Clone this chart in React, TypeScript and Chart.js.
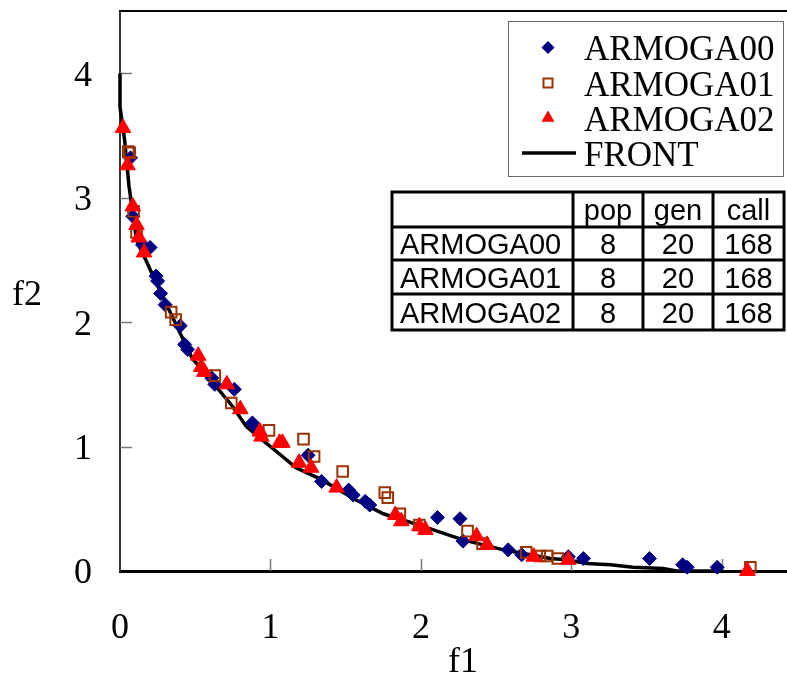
import React, { useEffect, useRef } from 'react';
import { Chart, registerables } from 'chart.js';

Chart.register(...registerables);

// ---- data ----
const frontF1 = [0, 0, 0.03, 0.06, 0.11, 0.16, 0.22, 0.31, 0.40, 0.48, 0.62, 0.75, 0.84, 0.97, 1.08, 1.17, 1.24, 1.33, 1.57, 1.75, 2.01, 2.28, 2.55, 2.86, 2.97, 3.10, 3.26, 3.41, 3.61, 3.70, 4.01];
const frontF2 = [4.0, 3.73, 3.47, 3.09, 2.66, 2.53, 2.37, 2.14, 1.91, 1.71, 1.51, 1.32, 1.16, 1.03, 0.92, 0.83, 0.79, 0.74, 0.57, 0.46, 0.36, 0.25, 0.17, 0.10, 0.09, 0.06, 0.05, 0.03, 0.02, 0.0, 0.0];

const a00F1 = [0.07, 0.085, 0.15, 0.20, 0.24, 0.25, 0.27, 0.30, 0.40, 0.43, 0.45, 0.61, 0.63, 0.76, 0.88, 0.90, 1.25, 1.34, 1.52, 1.55, 1.63, 1.66, 2.11, 2.26, 2.28, 2.58, 2.67, 2.98, 3.08, 3.52, 3.74, 3.77, 3.97];
const a00F2 = [3.32, 2.85, 2.62, 2.60, 2.37, 2.33, 2.23, 2.14, 1.97, 1.82, 1.78, 1.55, 1.50, 1.46, 1.19, 1.16, 0.93, 0.72, 0.65, 0.61, 0.56, 0.53, 0.43, 0.42, 0.24, 0.17, 0.13, 0.115, 0.10, 0.10, 0.05, 0.03, 0.03];

const a01F1 = [0.055, 0.065, 0.09, 0.11, 0.34, 0.37, 0.63, 0.74, 0.99, 1.22, 1.29, 1.48, 1.76, 1.78, 1.86, 1.99, 2.31, 2.41, 2.70, 2.79, 2.84, 2.91, 4.19];
const a01F2 = [3.37, 3.36, 2.89, 2.72, 2.08, 2.02, 1.57, 1.35, 1.13, 1.06, 0.92, 0.80, 0.63, 0.59, 0.46, 0.37, 0.32, 0.22, 0.15, 0.12, 0.12, 0.10, 0.03];

const a02F1 = [0.02, 0.05, 0.085, 0.11, 0.125, 0.16, 0.52, 0.54, 0.56, 0.71, 0.80, 0.93, 0.94, 1.06, 1.08, 1.19, 1.27, 1.44, 1.83, 1.87, 1.99, 2.03, 2.37, 2.44, 2.75, 2.98, 4.17];
const a02F2 = [3.56, 3.26, 2.93, 2.78, 2.68, 2.56, 1.73, 1.64, 1.60, 1.50, 1.30, 1.12, 1.08, 1.03, 1.03, 0.87, 0.83, 0.67, 0.45, 0.40, 0.36, 0.33, 0.28, 0.21, 0.115, 0.09, 0.0];

const xTickValues = [0, 1, 2, 3, 4];
const yTickValues = [0, 1, 2, 3, 4];
const xTitle = 'f1';
const yTitle = 'f2';

const seriesNames = ['ARMOGA00', 'ARMOGA01', 'ARMOGA02', 'FRONT'];

const tableHeader = ['', 'pop', 'gen', 'call'];
const tableNames = ['ARMOGA00', 'ARMOGA01', 'ARMOGA02'];
const tablePop = ['8', '8', '8'];
const tableGen = ['20', '20', '20'];
const tableCall = ['168', '168', '168'];

const NAVY = '#000080';
const BROWN = '#993300';
const RED = '#ff0000';
const SERIF = '"Liberation Serif", "Times New Roman", serif';
const SANS = '"Liberation Sans", Arial, sans-serif';

const toPoints = (xs: number[], ys: number[]) => xs.map((x, i) => ({ x, y: ys[i] }));

function drawMarker(ctx: CanvasRenderingContext2D, kind: number, x: number, y: number) {
  ctx.save();
  if (kind === 0) {
    const r = 6.5;
    ctx.fillStyle = NAVY;
    ctx.beginPath();
    ctx.moveTo(x, y - r);
    ctx.lineTo(x + r, y);
    ctx.lineTo(x, y + r);
    ctx.lineTo(x - r, y);
    ctx.closePath();
    ctx.fill();
  } else if (kind === 1) {
    ctx.strokeStyle = BROWN;
    ctx.lineWidth = 2;
    ctx.strokeRect(x - 4.5, y - 4.5, 9, 9);
  } else if (kind === 2) {
    const r = 7.5;
    ctx.fillStyle = RED;
    ctx.beginPath();
    ctx.moveTo(x, y - r);
    ctx.lineTo(x + r * 0.866, y + r * 0.5);
    ctx.lineTo(x - r * 0.866, y + r * 0.5);
    ctx.closePath();
    ctx.fill();
  } else {
    ctx.strokeStyle = '#000';
    ctx.lineWidth = 3.5;
    ctx.beginPath();
    ctx.moveTo(x - 26, y);
    ctx.lineTo(x + 28, y);
    ctx.stroke();
  }
  ctx.restore();
}

const decorPlugin = {
  id: 'decor',
  beforeDatasetsDraw(chart: any) {
    const ctx: CanvasRenderingContext2D = chart.ctx;
    const { left, top, right, bottom } = chart.chartArea;
    const xs = chart.scales.x;
    const ys = chart.scales.y;
    ctx.save();
    // top frame line
    ctx.strokeStyle = '#000';
    ctx.lineWidth = 2;
    ctx.beginPath();
    ctx.moveTo(left - 1, top);
    ctx.lineTo(right + 10, top);
    ctx.stroke();
    // inward tick marks
    ctx.strokeStyle = '#777';
    ctx.lineWidth = 1.5;
    xTickValues.forEach((v) => {
      if (v === 0) return;
      const px = Math.round(xs.getPixelForValue(v)) + 0.5;
      ctx.beginPath();
      ctx.moveTo(px, bottom);
      ctx.lineTo(px, bottom - 12);
      ctx.stroke();
    });
    yTickValues.forEach((v) => {
      if (v === 0) return;
      const py = Math.round(ys.getPixelForValue(v)) + 0.5;
      ctx.beginPath();
      ctx.moveTo(left, py);
      ctx.lineTo(left + 12, py);
      ctx.stroke();
    });
    ctx.restore();
  },
  afterDraw(chart: any) {
    const ctx: CanvasRenderingContext2D = chart.ctx;
    ctx.save();
    // axis titles
    ctx.fillStyle = '#000';
    ctx.font = `36px ${SERIF}`;
    ctx.textBaseline = 'alphabetic';
    ctx.textAlign = 'center';
    ctx.fillText(xTitle, 463, 672);
    ctx.textAlign = 'left';
    ctx.fillText(yTitle, 12, 305);

    // legend
    const lx = 508.5, ly = 21.5, lw = 275, lh = 155;
    ctx.fillStyle = '#fff';
    ctx.fillRect(lx, ly, lw, lh);
    ctx.strokeStyle = '#666';
    ctx.lineWidth = 1;
    ctx.strokeRect(lx, ly, lw, lh);
    const rowCenters = [47.5, 83, 118, 153];
    ctx.font = `35px ${SERIF}`;
    ctx.fillStyle = '#000';
    ctx.textAlign = 'left';
    seriesNames.forEach((name, i) => {
      drawMarker(ctx, i, 548, rowCenters[i]);
      ctx.fillStyle = '#000';
      ctx.fillText(name, 584, rowCenters[i] + 12.5);
    });

    // table
    const cols = [392, 573, 643, 713, 784];
    const rows = [192, 227, 260, 294, 330];
    ctx.fillStyle = '#fff';
    ctx.fillRect(cols[0], rows[0], cols[4] - cols[0], rows[4] - rows[0]);
    ctx.strokeStyle = '#000';
    ctx.lineWidth = 3;
    ctx.strokeRect(cols[0], rows[0], cols[4] - cols[0], rows[4] - rows[0]);
    ctx.beginPath();
    for (let c = 1; c < cols.length - 1; c++) {
      ctx.moveTo(cols[c], rows[0]);
      ctx.lineTo(cols[c], rows[4]);
    }
    for (let r = 1; r < rows.length - 1; r++) {
      ctx.moveTo(cols[0], rows[r]);
      ctx.lineTo(cols[4], rows[r]);
    }
    ctx.stroke();
    ctx.font = `29px ${SANS}`;
    ctx.fillStyle = '#000';
    const table = [
      tableHeader,
      ...tableNames.map((n, i) => [n, tablePop[i], tableGen[i], tableCall[i]]),
    ];
    table.forEach((row, r) => {
      const base = (rows[r] + rows[r + 1]) / 2 + 10.5;
      row.forEach((cell, c) => {
        if (!cell) return;
        if (c === 0) {
          ctx.textAlign = 'left';
          ctx.fillText(cell, cols[0] + 8, base);
        } else {
          ctx.textAlign = 'center';
          ctx.fillText(cell, (cols[c] + cols[c + 1]) / 2, base);
        }
      });
    });
    ctx.restore();
  },
};

export default function App() {
  const canvasRef = useRef<HTMLCanvasElement | null>(null);

  useEffect(() => {
    if (!canvasRef.current) return;
    const chart = new Chart(canvasRef.current, {
      type: 'scatter',
      data: {
        datasets: [
          {
            label: seriesNames[0],
            data: toPoints(a00F1, a00F2),
            pointStyle: 'rectRot',
            pointRadius: 7,
            backgroundColor: NAVY,
            borderColor: NAVY,
            borderWidth: 1,
            order: 3,
            clip: false,
          },
          {
            label: seriesNames[1],
            data: toPoints(a01F1, a01F2),
            pointStyle: 'rect',
            pointRadius: 7.5,
            backgroundColor: 'rgba(255,255,255,0)',
            borderColor: BROWN,
            borderWidth: 2,
            order: 2,
            clip: false,
          },
          {
            label: seriesNames[2],
            data: toPoints(a02F1, a02F2),
            pointStyle: 'triangle',
            pointRadius: 9,
            backgroundColor: RED,
            borderColor: RED,
            borderWidth: 1,
            order: 1,
            clip: false,
          },
          {
            label: seriesNames[3],
            data: toPoints(frontF1, frontF2),
            showLine: true,
            pointRadius: 0,
            borderColor: '#000',
            borderWidth: 3.5,
            tension: 0,
            order: 4,
            clip: false,
          } as any,
        ],
      },
      options: {
        responsive: false,
        animation: false,
        devicePixelRatio: 1,
        layout: { padding: { top: 11, right: 3, left: 0, bottom: 0 } },
        plugins: { legend: { display: false }, tooltip: { enabled: false } },
        scales: {
          x: {
            type: 'linear',
            min: 0,
            max: 4.5,
            afterFit: (s: any) => {
              s.height = 104;
              s.paddingLeft = 0;
              s.paddingRight = 0;
              s.paddingTop = 0;
              s.paddingBottom = 0;
            },
            grid: { display: false, drawTicks: false },
            border: { display: true, color: '#000', width: 3 },
            ticks: {
              stepSize: 1,
              includeBounds: false,
              padding: 36,
              color: '#000',
              font: { family: SERIF, size: 36 },
            },
          },
          y: {
            type: 'linear',
            min: 0,
            max: 4.5,
            afterFit: (s: any) => {
              s.width = 120;
              s.paddingLeft = 0;
              s.paddingRight = 0;
              s.paddingTop = 0;
              s.paddingBottom = 0;
            },
            grid: { display: false, drawTicks: false },
            border: { display: true, color: '#333', width: 2 },
            ticks: {
              stepSize: 1,
              includeBounds: false,
              padding: 28,
              labelOffset: 3,
              color: '#000',
              font: { family: SERIF, size: 36 },
            },
          },
        },
      },
      plugins: [decorPlugin],
    });
    return () => chart.destroy();
  }, []);

  return (
    <div style={{ position: 'fixed', left: 0, top: 0, width: 787, height: 675, overflow: 'hidden', background: '#fff' }}>
      <canvas ref={canvasRef} width={807} height={675} style={{ display: 'block' }} />
    </div>
  );
}
